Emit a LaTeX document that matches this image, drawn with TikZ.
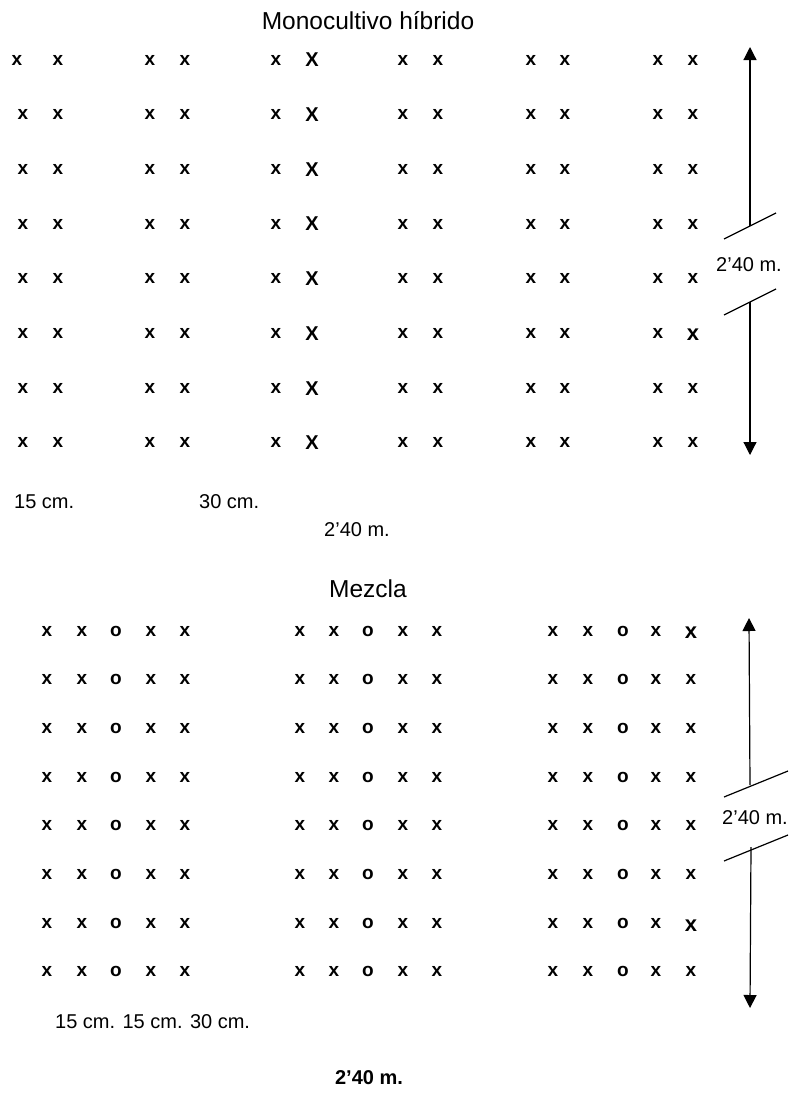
\documentclass[tikz,border=0pt]{standalone}
\usepackage{fontspec}
\setmainfont{Liberation Sans}
\usetikzlibrary{arrows.meta}
\begin{document}
\begin{tikzpicture}[x=1pt,y=-1pt,
  mk/.style={inner sep=0pt, font=\fontsize{19}{19}\selectfont\bfseries},
  capmk/.style={inner sep=0pt, font=\fontsize{20}{20}\selectfont\bfseries},
  bigmk/.style={inner sep=0pt, font=\fontsize{22}{22}\selectfont\bfseries},
  lbl/.style={inner sep=0pt, font=\fontsize{20}{20}\selectfont},
  ttl/.style={inner sep=0pt, font=\fontsize{24.5}{24.5}\selectfont},
  dimline/.style={line width=1.2pt},
  tipped/.style={dimline, -{Triangle[length=13pt,width=13pt]}}]
\useasboundingbox (0,0) rectangle (794,1093);

% ---------- Monocultivo hibrido ----------
\node[ttl] (t1) at (368,20.5) {Monocultivo híbrido};
\foreach \r in {1,...,8}{
  \pgfmathsetmacro\yy{60+54.7*(\r-1)}
  \foreach \c/\xx/\s in {1/23/x,2/58/x,3/150/x,4/185/x,5/276/x,6/312/X,7/403/x,8/438/x,9/531/x,10/565/x,11/658/x,12/693/x}{
    \pgfmathsetmacro\xa{(\r==1 && \c==1) ? 17 : \xx}
    \pgfmathtruncatemacro\big{(\r==6 && \c==12) ? 1 : 0}
    \ifnum\c=6
      \node[capmk] (m-\r-\c) at (\xa,\yy) {\s};
    \else\ifnum\big=1
      \node[bigmk] (m-\r-\c) at (\xa,\yy+1) {\s};
    \else
      \node[mk] (m-\r-\c) at (\xa,\yy) {\s};
    \fi\fi
  }
}
% vertical dimension
\coordinate (ua) at (750,47);
\coordinate (ub) at (750,226);
\coordinate (uc) at (750,302);
\coordinate (ud) at (750,455);
\draw[tipped] (ub) -- (ua);
\draw[tipped] (uc) -- (ud);
\coordinate (s1a) at (724,239); \coordinate (s1b) at (776,213);
\coordinate (s2a) at (724,315); \coordinate (s2b) at (776,289);
\draw[dimline] (s1a) -- (s1b);
\draw[dimline] (s2a) -- (s2b);
\node[lbl] (uh) at (749,265) {2’40 m.};

\node[lbl, anchor=west] (l15) at (14,502) {15 cm.};
\node[lbl, anchor=west] (l30) at (199,502) {30 cm.};
\node[lbl] (lw1) at (357,530) {2’40 m.};

% ---------- Mezcla ----------
\node[ttl] (t2) at (368,589) {Mezcla};
\foreach \r in {1,...,8}{
  \pgfmathsetmacro\yy{631+48.7*(\r-1)}
  \foreach \c/\xx/\s in {1/47/x,2/82/x,3/116/o,4/151/x,5/185/x,6/300/x,7/334/x,8/368/o,9/403/x,10/437/x,11/553/x,12/588/x,13/623/o,14/656/x,15/691/x}{
    \pgfmathtruncatemacro\big{((\r==1 || \r==7) && \c==15) ? 1 : 0}
    \ifnum\big=1
      \node[bigmk] (n-\r-\c) at (\xx,\yy+2) {\s};
    \else
      \node[mk] (n-\r-\c) at (\xx,\yy) {\s};
    \fi
  }
}
\coordinate (va) at (749,618);
\coordinate (vb) at (750,785);
\coordinate (vc) at (751,847);
\coordinate (vd) at (750,1008);
\draw[tipped] (vb) -- (va);
\draw[tipped] (vc) -- (vd);
\coordinate (s3a) at (724,797); \coordinate (s3b) at (788,771);
\coordinate (s4a) at (724,861); \coordinate (s4b) at (788,835);
\draw[dimline] (s3a) -- (s3b);
\draw[dimline] (s4a) -- (s4b);
\node[lbl] (vh) at (755,818) {2’40 m.};

\node[lbl, anchor=west] (l3) at (55,1022) {15 cm. 15 cm. 30 cm.};
\node[lbl, font=\fontsize{20}{20}\selectfont\bfseries] (lw2) at (369,1078) {2’40 m.};
\end{tikzpicture}
\end{document}
